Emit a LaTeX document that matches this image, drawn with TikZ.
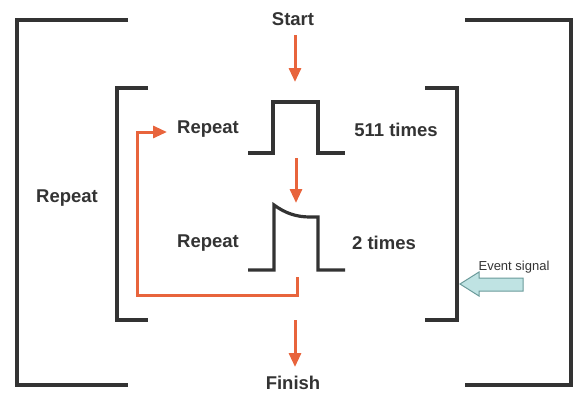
\documentclass[tikz,border=0pt]{standalone}
\usepackage{fontspec}
\setmainfont{Liberation Sans}
\usetikzlibrary{arrows.meta}
\definecolor{ora}{HTML}{E8643C}
\definecolor{lin}{HTML}{333333}
\definecolor{evfill}{HTML}{BFE3E3}
\definecolor{evline}{HTML}{6A9A9A}
\begin{document}
\begin{tikzpicture}[x=1pt,y=-1pt,
  brk/.style={draw=lin,line width=3.2pt},
  pulse/.style={draw=lin,line width=3.2pt,line join=miter},
  flow/.style={draw=ora,line width=3pt,-{Triangle[length=14pt,width=12pt]}},
  lbl/.style={font=\bfseries\fontsize{18.5}{20}\selectfont,text=lin,inner sep=0pt},
  small/.style={font=\fontsize{13}{14}\selectfont,text=lin,inner sep=0pt}]
\useasboundingbox (0,0) rectangle (573,394);
% outer brackets
\draw[brk] (128,20) -- (17,20) -- (17,385) -- (128,385);
\draw[brk] (465,20) -- (571,20) -- (571,385) -- (465,385);
% inner brackets
\draw[brk] (148,88) -- (117,88) -- (117,320) -- (148,320);
\draw[brk] (425,88) -- (457,88) -- (457,320) -- (425,320);
% text
\node[lbl] (start) at (293,19) {Start};
\node[lbl] (finish) at (293,383) {Finish};
\node[lbl] (repout) at (67,198) {Repeat};
\node[lbl] (rep1) at (208,129) {Repeat};
\node[lbl] (rep2) at (208,243) {Repeat};
\node[lbl] (t511) at (396,130) {511 times};
\node[lbl] (t2) at (384,243) {2 times};
\node[small] (ev) at (514,267) {Event signal};
% pulses
\coordinate (p1top) at (295,102);
\coordinate (p1bot) at (296,158);
\coordinate (p2top) at (296,205);
\coordinate (p2bot) at (297,277);
\coordinate (finarr) at (295,367);
\coordinate (fromtop) at (295,320);
\draw[pulse] (248,153) -- (273,153) -- (273,102) -- (318,102) -- (318,153) -- (345,153);
\draw[pulse] (248,270) -- (274,270) -- (274,205) .. controls (285,213) and (296,217) .. (310,217) -- (318,217) -- (318,270) -- (345,270);
% flow arrows
\draw[flow] (295,35) -- (295,82);
\draw[flow] (p1bot) -- (296,203);
\draw[flow] (fromtop) -- (finarr);
\coordinate (loopend) at (167,132);
\draw[flow,line join=miter] (p2bot) -- (297,295) -- (137,295) -- (137,132) -- (loopend);
% event signal arrow
\draw[draw=evline,fill=evfill,line width=1pt] (460,284) -- (479,272) -- (479,278) -- (523,278) -- (523,291) -- (479,291) -- (479,296) -- cycle;
\end{tikzpicture}
\end{document}
